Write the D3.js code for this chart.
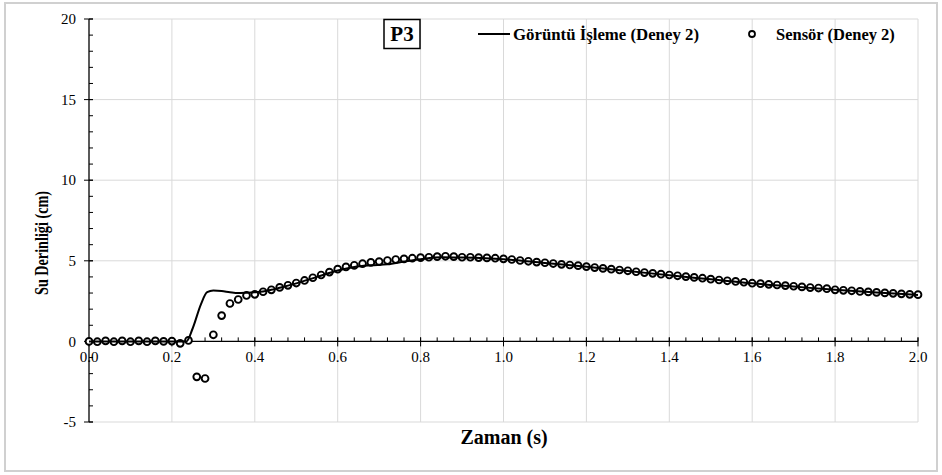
<!DOCTYPE html>
<html><head><meta charset="utf-8">
<script src="https://cdn.jsdelivr.net/npm/d3@7"></script>
<style>body{margin:0;background:#fff}svg{display:block}</style>
</head><body>
<script>
// ---- data ----
const sensorTime = [0.00,0.02,0.04,0.06,0.08,0.10,0.12,0.14,0.16,0.18,0.20,0.22,0.24,0.26,0.28,0.30,0.32,0.34,0.36,0.38,
0.40,0.42,0.44,0.46,0.48,0.50,0.52,0.54,0.56,0.58,0.60,0.62,0.64,0.66,0.68,0.70,0.72,0.74,0.76,0.78,
0.80,0.82,0.84,0.86,0.88,0.90,0.92,0.94,0.96,0.98,1.00,1.02,1.04,1.06,1.08,1.10,1.12,1.14,1.16,1.18,
1.20,1.22,1.24,1.26,1.28,1.30,1.32,1.34,1.36,1.38,1.40,1.42,1.44,1.46,1.48,1.50,1.52,1.54,1.56,1.58,
1.60,1.62,1.64,1.66,1.68,1.70,1.72,1.74,1.76,1.78,1.80,1.82,1.84,1.86,1.88,1.90,1.92,1.94,1.96,1.98,2.00];
const sensorDepth = [0.00,-0.02,0.03,-0.02,0.03,-0.02,0.03,-0.02,0.03,0.00,0.02,-0.12,0.06,-2.20,-2.30,0.41,1.60,2.35,2.60,2.85,
2.92,3.08,3.20,3.35,3.48,3.62,3.78,3.95,4.12,4.30,4.48,4.62,4.72,4.82,4.90,4.95,5.02,5.08,5.12,5.16,
5.20,5.22,5.26,5.28,5.26,5.22,5.22,5.20,5.18,5.16,5.12,5.08,5.02,4.97,4.92,4.88,4.83,4.78,4.74,4.70,
4.64,4.58,4.53,4.48,4.43,4.38,4.32,4.27,4.22,4.17,4.12,4.07,4.02,3.97,3.92,3.86,3.81,3.76,3.72,3.67,
3.61,3.58,3.54,3.50,3.46,3.42,3.38,3.34,3.31,3.27,3.20,3.17,3.14,3.10,3.07,3.04,3.01,2.98,2.95,2.92,2.90];
const imageTime  = [0.00,0.235,0.25,0.27,0.285,0.30,0.32,0.34,0.36,0.38,0.40,0.42,0.44,0.46,0.50,0.55,0.60,0.64,0.68,0.72,0.76,0.80,0.85,0.90,1.00,1.10,1.20,1.30,1.40,1.50,1.60,1.70,1.80,1.90,2.00];
const imageDepth = [0.00,0.00,0.80,2.30,3.05,3.15,3.12,3.05,3.00,3.02,3.05,3.10,3.20,3.33,3.60,4.00,4.40,4.62,4.72,4.78,4.95,5.10,5.22,5.20,5.10,4.86,4.63,4.37,4.10,3.85,3.60,3.40,3.20,3.03,2.88];
const xTicks = [0.0,0.2,0.4,0.6,0.8,1.0,1.2,1.4,1.6,1.8,2.0];
const yTicks = [-5,0,5,10,15,20];
const seriesNames = ["Görüntü İşleme (Deney 2)","Sensör (Deney 2)"];
const panelLabel = "P3";

// ---- chart ----
const W = 942, H = 475;
const FONT = "Liberation Serif";
const svg = d3.select("body").append("svg").attr("width", W).attr("height", H);
svg.append("rect").attr("x",5).attr("y",3).attr("width",932).attr("height",468)
  .attr("fill","#fff").attr("stroke","#d0d0d0").attr("stroke-width",2);

const x = d3.scaleLinear().domain([0,2]).range([89,918]);
const y = d3.scaleLinear().domain([-5,20]).range([422,19]);

// grid
svg.append("g").selectAll("line").data(xTicks.slice(1)).join("line")
  .attr("x1",d=>x(d)).attr("x2",d=>x(d)).attr("y1",y(20)).attr("y2",y(-5))
  .attr("stroke","#d9d9d9").attr("stroke-width",1);
svg.append("g").selectAll("line").data(yTicks.filter(d=>d!==0)).join("line")
  .attr("x1",x(0)).attr("x2",x(2)).attr("y1",d=>y(d)).attr("y2",d=>y(d))
  .attr("stroke","#d9d9d9").attr("stroke-width",1);

// y axis
const yMinor = d3.range(-5,21,1);
const yAx = svg.append("g").attr("stroke","#000");
yAx.append("line").attr("x1",x(0)).attr("x2",x(0)).attr("y1",y(20)).attr("y2",y(-5)).attr("stroke-width",1.3);
yAx.selectAll(".mn").data(yMinor).join("line").attr("class","mn")
  .attr("x1",x(0)).attr("x2",x(0)+4).attr("y1",d=>y(d)).attr("y2",d=>y(d));
yAx.selectAll(".mj").data(yTicks).join("line").attr("class","mj")
  .attr("x1",x(0)-5).attr("x2",x(0)+4).attr("y1",d=>y(d)).attr("y2",d=>y(d));
svg.append("g").selectAll("text").data(yTicks).join("text")
  .attr("x",76).attr("y",d=>y(d)).attr("dy","0.35em").attr("text-anchor","end")
  .style("font-family",FONT).attr("font-size",15).text(d=>d);

// x axis at y=0
const xMinor = d3.range(0,2.0001,0.04);
const xAx = svg.append("g").attr("stroke","#000");
xAx.append("line").attr("x1",x(0)).attr("x2",x(2)).attr("y1",y(0)).attr("y2",y(0)).attr("stroke-width",1.3);
xAx.selectAll(".mn").data(xMinor).join("line").attr("class","mn")
  .attr("x1",d=>x(d)).attr("x2",d=>x(d)).attr("y1",y(0)-4).attr("y2",y(0));
xAx.selectAll(".mj").data(xTicks).join("line").attr("class","mj")
  .attr("x1",d=>x(d)).attr("x2",d=>x(d)).attr("y1",y(0)-4).attr("y2",y(0)+5);
svg.append("g").selectAll("text").data(xTicks).join("text")
  .attr("x",d=>x(d)).attr("y",362).attr("text-anchor","middle")
  .style("font-family",FONT).attr("font-size",15).text(d=>d.toFixed(1));

// axis titles
svg.append("text").attr("x",504).attr("y",444).attr("text-anchor","middle")
  .style("font-family",FONT).attr("font-size",20).attr("font-weight","bold").text("Zaman (s)");
svg.append("text").attr("transform","translate(48,243) rotate(-90)").attr("text-anchor","middle")
  .style("font-family",FONT).attr("font-size",18.5).attr("font-weight","bold")
  .attr("textLength",104).attr("lengthAdjust","spacingAndGlyphs").text("Su Derinliği (cm)");

// series
svg.append("g").selectAll("circle").data(sensorDepth).join("circle")
  .attr("cx",(d,i)=>x(sensorTime[i])).attr("cy",d=>y(d)).attr("r",3.4)
  .attr("fill","#fff").attr("stroke","#000").attr("stroke-width",1.9);
const line = d3.line().x((d,i)=>x(imageTime[i])).y(d=>y(d)).curve(d3.curveMonotoneX);
svg.append("path").datum(imageDepth).attr("d",line).attr("fill","none")
  .attr("stroke","#000").attr("stroke-width",2);

// panel label
svg.append("rect").attr("x",384).attr("y",19.5).attr("width",36).attr("height",29)
  .attr("fill","#fff").attr("stroke","#000").attr("stroke-width",1.5);
svg.append("text").attr("x",402).attr("y",41).attr("text-anchor","middle")
  .style("font-family",FONT).attr("font-size",21).attr("font-weight","bold").text(panelLabel);

// legend
const lg = svg.append("g");
lg.append("line").attr("x1",478).attr("x2",510).attr("y1",34).attr("y2",34).attr("stroke","#000").attr("stroke-width",2);
lg.append("text").attr("x",513).attr("y",40).style("font-family",FONT).attr("font-size",16.8).attr("font-weight","bold").text(seriesNames[0]);
lg.append("circle").attr("cx",752).attr("cy",34).attr("r",3).attr("fill","#fff").attr("stroke","#000").attr("stroke-width",1.8);
lg.append("text").attr("x",776).attr("y",40).style("font-family",FONT).attr("font-size",16.5).attr("font-weight","bold").text(seriesNames[1]);
</script>
</body></html>
